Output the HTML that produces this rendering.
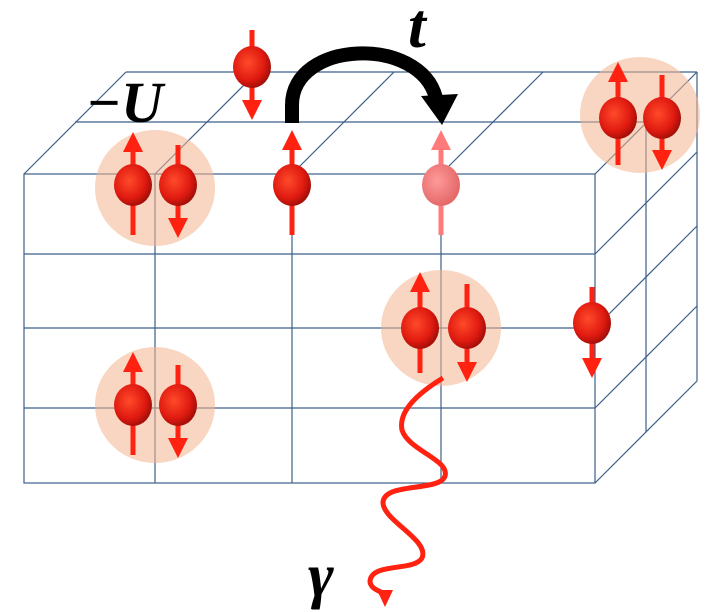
<!DOCTYPE html>
<html><head><meta charset="utf-8"><style>html,body{margin:0;padding:0;background:#fff}svg{display:block}</style></head><body>
<svg width="720" height="612" viewBox="0 0 720 612" xmlns="http://www.w3.org/2000/svg">
<defs>
<radialGradient id="s" cx="0.4" cy="0.4" r="0.7"><stop offset="0" stop-color="#ff4a2a"/><stop offset="0.6" stop-color="#e01a10"/><stop offset="1" stop-color="#8a0a05"/></radialGradient>
<radialGradient id="f" cx="0.4" cy="0.4" r="0.7"><stop offset="0" stop-color="#ff9a9a"/><stop offset="1" stop-color="#e06060"/></radialGradient>
<marker id="ah" markerWidth="4" markerHeight="4" refX="2" refY="2" orient="auto" markerUnits="strokeWidth"><path d="M0,0 L4,2 L0,4z" fill="#f21"/></marker>
<marker id="ah2" markerWidth="4" markerHeight="4" refX="2" refY="2" orient="auto" markerUnits="strokeWidth"><path d="M0,0 L4,2 L0,4z" fill="#ff7a7a"/></marker>
</defs>
<g stroke="#3d5f8a" stroke-width="1.2" fill="none">
<rect x="24" y="174" width="571" height="309"/>
<line x1="24" y1="254" x2="595" y2="254"/><line x1="24" y1="328" x2="595" y2="328"/><line x1="24" y1="408" x2="595" y2="408"/>
<line x1="155" y1="174" x2="155" y2="483"/><line x1="292" y1="174" x2="292" y2="483"/><line x1="441" y1="174" x2="441" y2="483"/>
<line x1="126" y1="72" x2="697" y2="72"/><line x1="75" y1="122" x2="646" y2="122"/>
<line x1="24" y1="174" x2="126" y2="72"/><line x1="155" y1="174" x2="257" y2="72"/><line x1="292" y1="174" x2="394" y2="72"/><line x1="441" y1="174" x2="543" y2="72"/><line x1="595" y1="174" x2="697" y2="72"/>
<line x1="697" y1="72" x2="697" y2="381"/><line x1="646" y1="122" x2="646" y2="432"/>
<line x1="595" y1="254" x2="697" y2="152"/><line x1="595" y1="328" x2="697" y2="226"/><line x1="595" y1="408" x2="697" y2="306"/><line x1="595" y1="483" x2="697" y2="381"/>
</g>
<g fill="#f3b58e" opacity="0.55">
<ellipse cx="155" cy="188" rx="60" ry="58"/><ellipse cx="640" cy="115" rx="60" ry="58"/><ellipse cx="441" cy="328" rx="60" ry="58"/><ellipse cx="155" cy="405" rx="60" ry="58"/>
</g>
<g stroke="#f21" stroke-width="5" fill="none" marker-end="url(#ah)">
<line x1="133" y1="235" x2="133" y2="142"/><line x1="178" y1="145" x2="178" y2="228"/>
<line x1="133" y1="455" x2="133" y2="362"/><line x1="178" y1="365" x2="178" y2="448"/>
<line x1="420" y1="373" x2="420" y2="282"/><line x1="467" y1="284" x2="467" y2="372"/>
<line x1="618" y1="165" x2="618" y2="72"/><line x1="662" y1="75" x2="662" y2="160"/>
<line x1="292" y1="235" x2="292" y2="140"/>
<line x1="252" y1="30" x2="252" y2="110"/>
<line x1="592" y1="287" x2="592" y2="368"/>
</g>
<line x1="441" y1="235" x2="441" y2="140" stroke="#ff7a7a" stroke-width="5" marker-end="url(#ah2)"/>
<g fill="url(#s)">
<ellipse cx="133" cy="185" rx="19" ry="21"/><ellipse cx="178" cy="185" rx="19" ry="21"/>
<ellipse cx="133" cy="405" rx="19" ry="21"/><ellipse cx="178" cy="405" rx="19" ry="21"/>
<ellipse cx="420" cy="328" rx="19" ry="21"/><ellipse cx="467" cy="328" rx="19" ry="21"/>
<ellipse cx="618" cy="118" rx="19" ry="21"/><ellipse cx="662" cy="118" rx="19" ry="21"/>
<ellipse cx="292" cy="185" rx="19" ry="21"/><ellipse cx="252" cy="67" rx="19" ry="21"/><ellipse cx="592" cy="323" rx="19" ry="21"/>
</g>
<ellipse cx="441" cy="185" rx="19" ry="21" fill="url(#f)"/>
<path d="M292,123 L292,105 C292,40 420,35 436,98" stroke="#000" stroke-width="14" fill="none"/>
<path d="M421,96 L458,94 L442,125z" fill="#000"/>
<path d="M443,378 C420,392 398,410 402,430 C408,450 450,460 445,476 C440,492 385,482 383,502 C382,520 430,540 422,558 C414,572 370,562 370,582 C372,592 385,590 385,598" stroke="#f21" stroke-width="5" fill="none"/>
<path d="M377,590 L393,590 L385,607z" fill="#f21"/>
<text x="408" y="47" font-family="'Liberation Serif',serif" font-style="italic" font-weight="bold" font-size="64" fill="#000">t</text>
<text x="86" y="122" font-family="'Liberation Serif',serif" font-style="italic" font-weight="bold" font-size="58" fill="#000">−U</text>
<text x="308" y="596" font-family="'Liberation Serif',serif" font-style="italic" font-weight="bold" font-size="62" fill="#000">γ</text>
</svg>
</body></html>
